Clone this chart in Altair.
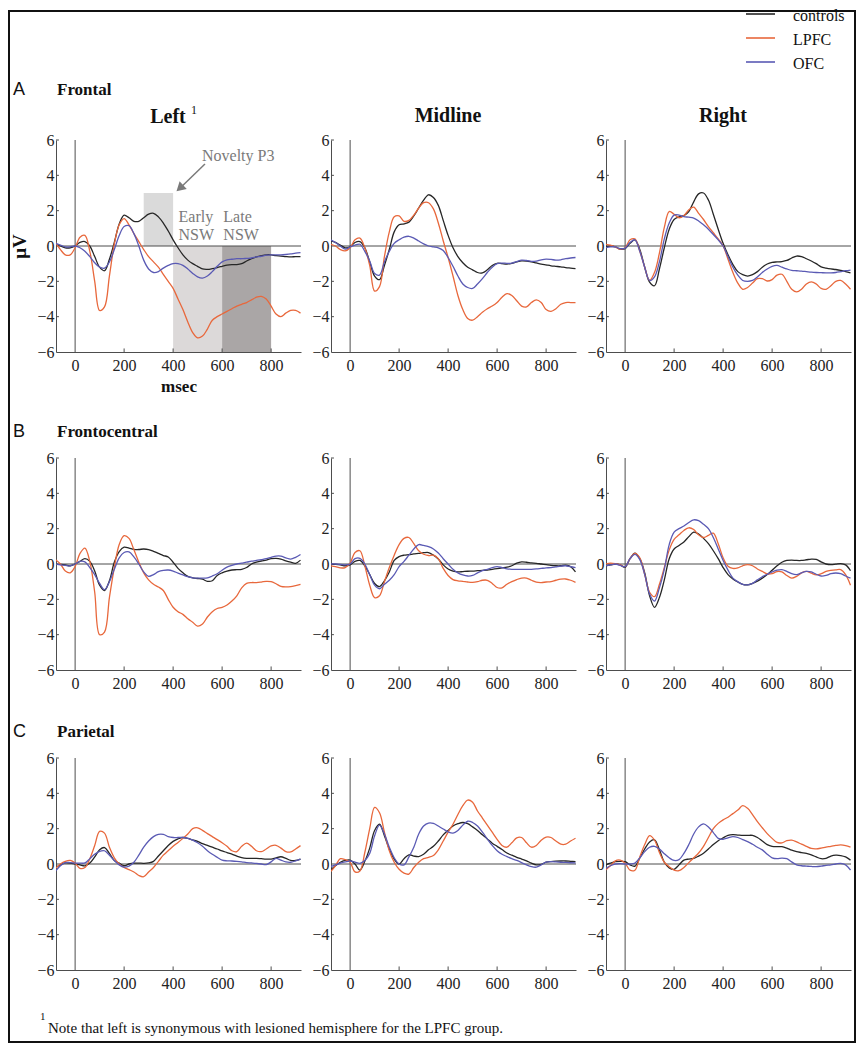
import altair as alt
import pandas as pd

# ---------------- data ----------------
t_ms = list(range(-80, 921, 20))  # 51 samples

groups = ["controls", "LPFC", "OFC"]
group_colors = ["#262626", "#e8683c", "#5a5ab4"]

row_letters = ["A", "B", "C"]
region_rows = ["Frontal", "Frontocentral", "Parietal"]
hemi_cols = ["Left", "Midline", "Right"]

x_ticks = [0, 200, 400, 600, 800]
y_ticks = [-6, -4, -2, 0, 2, 4, 6]

# Frontal
frontal_left_controls = [0.1, 0.0, -0.1, -0.1, 0.0, 0.2, 0.25, 0.0, -0.6, -1.2, -1.4, -0.75, 0.2, 1.25, 1.75, 1.6, 1.4, 1.4, 1.6, 1.8, 1.85, 1.65, 1.3, 0.85, 0.35, -0.1, -0.5, -0.8, -1.0, -1.15, -1.3, -1.32, -1.28, -1.22, -1.15, -1.08, -1.05, -1.05, -1.0, -0.85, -0.72, -0.62, -0.55, -0.5, -0.5, -0.55, -0.57, -0.6, -0.62, -0.6, -0.6]
frontal_left_lpfc = [0.2, -0.2, -0.5, -0.5, -0.1, 0.5, 0.6, -0.3, -2.0, -3.65, -3.45, -1.7, 0.1, 1.2, 1.55, 1.2, 0.7, 0.25, -0.2, -0.6, -0.9, -1.2, -1.6, -2.0, -2.4, -3.0, -3.6, -4.3, -4.9, -5.2, -5.1, -4.7, -4.2, -4.0, -3.85, -3.7, -3.55, -3.4, -3.3, -3.2, -3.05, -2.9, -2.85, -3.0, -3.4, -3.85, -4.0, -3.8, -3.65, -3.65, -3.8]
frontal_left_ofc = [0.15, 0.05, -0.05, -0.05, 0.0, -0.1, -0.3, -0.6, -0.95, -1.2, -1.25, -0.9, -0.2, 0.6, 1.1, 1.15, 0.7, 0.0, -0.8, -1.3, -1.5, -1.45, -1.25, -1.1, -1.0, -1.0, -1.1, -1.3, -1.55, -1.75, -1.82, -1.7, -1.45, -1.15, -0.9, -0.78, -0.75, -0.72, -0.72, -0.7, -0.68, -0.62, -0.58, -0.52, -0.5, -0.5, -0.5, -0.48, -0.45, -0.4, -0.38]
frontal_mid_controls = [0.3, 0.2, 0.05, -0.1, -0.05, 0.2, 0.25, -0.1, -0.9, -1.7, -1.9, -1.1, -0.2, 0.8, 1.2, 1.25, 1.35, 1.7, 2.15, 2.6, 2.9, 2.75, 2.3, 1.45, 0.6, -0.1, -0.6, -0.95, -1.2, -1.35, -1.5, -1.52, -1.35, -1.1, -0.98, -1.0, -1.02, -0.98, -0.9, -0.84, -0.85, -0.9, -0.96, -1.02, -1.07, -1.12, -1.15, -1.18, -1.22, -1.25, -1.28]
frontal_mid_lpfc = [0.1, 0.0, -0.2, -0.28, -0.1, 0.35, 0.45, -0.1, -1.1, -2.55, -2.3, -0.6, 0.8, 1.65, 1.7, 1.4, 1.45, 1.75, 2.15, 2.45, 2.45, 2.1, 1.3, 0.3, -0.65, -1.7, -2.8, -3.6, -4.1, -4.2, -4.0, -3.75, -3.55, -3.4, -3.2, -2.9, -2.7, -2.8, -3.1, -3.4, -3.45, -3.2, -3.05, -3.2, -3.6, -3.7, -3.55, -3.3, -3.2, -3.2, -3.2]
frontal_mid_ofc = [0.35, 0.2, 0.0, -0.18, -0.05, 0.05, 0.1, -0.3, -0.85, -1.55, -1.65, -0.9, -0.3, 0.15, 0.35, 0.5, 0.55, 0.45, 0.28, 0.12, 0.0, -0.05, -0.1, -0.25, -0.65, -1.15, -1.7, -2.15, -2.35, -2.4, -2.15, -1.85, -1.5, -1.2, -1.0, -0.97, -0.98, -0.97, -0.88, -0.8, -0.82, -0.87, -0.85, -0.78, -0.74, -0.76, -0.8, -0.78, -0.72, -0.68, -0.65]
frontal_right_controls = [-0.05, 0.0, -0.05, -0.18, -0.15, 0.15, 0.35, -0.2, -1.2, -2.05, -2.25, -1.3, -0.1, 0.95, 1.5, 1.65, 1.72, 1.95, 2.5, 2.95, 3.0, 2.6, 1.8, 0.95, 0.15, -0.5, -1.05, -1.45, -1.62, -1.7, -1.62, -1.45, -1.2, -1.02, -0.93, -0.9, -0.88, -0.82, -0.68, -0.57, -0.6, -0.72, -0.85, -1.0, -1.18, -1.25, -1.3, -1.33, -1.38, -1.45, -1.52]
frontal_right_lpfc = [0.1, 0.05, -0.05, -0.18, -0.1, 0.35, 0.4, -0.3, -1.2, -1.95, -1.5, -0.4, 1.05, 1.95, 1.8, 1.6, 1.72, 2.05, 2.2, 1.85, 1.5, 1.1, 0.75, 0.4, 0.0, -0.75, -1.5, -2.1, -2.45, -2.35, -2.1, -1.85, -1.85, -1.98, -1.9, -1.65, -1.6, -2.0, -2.45, -2.6, -2.45, -2.15, -2.03, -2.15, -2.4, -2.45, -2.25, -2.0, -1.95, -2.15, -2.45]
frontal_right_ofc = [-0.1, -0.05, -0.05, -0.15, -0.12, 0.2, 0.35, -0.3, -1.2, -1.95, -1.75, -0.9, 0.4, 1.3, 1.75, 1.75, 1.66, 1.63, 1.58, 1.42, 1.2, 0.95, 0.65, 0.35, 0.0, -0.6, -1.2, -1.65, -1.95, -2.0, -1.95, -1.75, -1.5, -1.3, -1.15, -1.1, -1.2, -1.3, -1.38, -1.4, -1.42, -1.45, -1.48, -1.5, -1.51, -1.52, -1.52, -1.5, -1.45, -1.4, -1.36]

# Frontocentral
frontocentral_left_controls = [0.0, -0.02, -0.05, -0.1, 0.0, 0.15, 0.3, 0.15, -0.4, -1.2, -1.5, -0.95, 0.1, 0.7, 0.95, 0.9, 0.83, 0.82, 0.85, 0.82, 0.72, 0.6, 0.48, 0.4, 0.1, -0.25, -0.5, -0.7, -0.78, -0.82, -0.86, -0.98, -0.95, -0.65, -0.5, -0.4, -0.34, -0.32, -0.3, -0.2, 0.0, 0.1, 0.17, 0.22, 0.3, 0.32, 0.28, 0.18, 0.1, 0.04, 0.22]
frontocentral_left_lpfc = [0.25, 0.0, -0.4, -0.5, -0.15, 0.6, 0.9, 0.15, -1.6, -4.0, -3.85, -1.9, -0.2, 1.1, 1.6, 1.45, 0.8, 0.1, -0.5, -0.9, -1.15, -1.3, -1.5, -2.0, -2.45, -2.7, -2.85, -3.1, -3.3, -3.52, -3.4, -3.0, -2.7, -2.52, -2.45, -2.32, -2.1, -1.8, -1.35, -1.1, -1.05, -1.05, -1.02, -0.98, -1.0, -1.12, -1.27, -1.3, -1.28, -1.22, -1.15]
frontocentral_left_ofc = [0.0, -0.05, -0.08, -0.1, 0.0, 0.15, 0.12, -0.2, -0.6, -1.1, -1.45, -1.0, -0.3, 0.35, 0.65, 0.68, 0.4, 0.0, -0.45, -0.7, -0.6, -0.43, -0.36, -0.34, -0.4, -0.52, -0.62, -0.72, -0.78, -0.8, -0.8, -0.78, -0.68, -0.55, -0.35, -0.18, -0.08, 0.0, 0.05, 0.1, 0.16, 0.2, 0.25, 0.3, 0.38, 0.45, 0.45, 0.35, 0.28, 0.38, 0.54]
frontocentral_mid_controls = [0.0, -0.02, -0.05, -0.1, -0.05, 0.15, 0.2, -0.1, -0.6, -1.1, -1.28, -0.95, -0.45, 0.2, 0.42, 0.5, 0.53, 0.57, 0.6, 0.64, 0.65, 0.5, 0.28, -0.05, -0.28, -0.4, -0.45, -0.43, -0.41, -0.4, -0.38, -0.36, -0.34, -0.3, -0.26, -0.22, -0.18, -0.1, 0.05, 0.12, 0.1, 0.06, 0.04, 0.0, -0.04, -0.08, -0.1, -0.1, -0.07, -0.15, -0.45]
frontocentral_mid_lpfc = [-0.1, -0.15, -0.22, -0.2, 0.05, 0.65, 0.75, -0.1, -1.2, -1.9, -1.8, -1.0, -0.2, 0.5, 1.1, 1.45, 1.5, 1.15, 0.75, 0.55, 0.48, 0.5, 0.3, -0.25, -0.65, -0.88, -0.95, -0.98, -1.02, -1.04, -1.0, -0.92, -0.92, -1.1, -1.33, -1.35, -1.15, -1.0, -0.88, -0.8, -0.8, -0.92, -1.03, -1.05, -1.02, -1.0, -0.92, -0.86, -0.85, -0.92, -1.04]
frontocentral_mid_ofc = [0.0, 0.0, -0.02, -0.05, 0.0, 0.3, 0.32, 0.0, -0.6, -1.2, -1.4, -1.15, -0.92, -0.6, -0.15, 0.15, 0.5, 0.85, 1.1, 1.05, 0.98, 0.85, 0.62, 0.3, 0.0, -0.3, -0.5, -0.62, -0.68, -0.65, -0.5, -0.38, -0.3, -0.2, -0.15, -0.2, -0.27, -0.3, -0.3, -0.3, -0.3, -0.3, -0.28, -0.25, -0.22, -0.2, -0.16, -0.12, -0.1, -0.15, -0.2]
frontocentral_right_controls = [-0.1, -0.05, 0.0, -0.05, -0.19, 0.3, 0.62, 0.3, -0.5, -1.8, -2.45, -1.9, -0.9, 0.3, 0.85, 1.05, 1.25, 1.55, 1.8, 1.7, 1.45, 1.15, 0.75, 0.3, -0.2, -0.6, -0.85, -1.02, -1.15, -1.18, -1.1, -0.97, -0.8, -0.6, -0.35, -0.1, 0.1, 0.2, 0.22, 0.2, 0.2, 0.24, 0.28, 0.26, 0.12, 0.0, -0.04, -0.01, 0.02, -0.05, -0.38]
frontocentral_right_lpfc = [0.0, 0.05, 0.02, -0.05, -0.15, 0.3, 0.6, 0.35, -0.6, -1.6, -1.85, -1.15, -0.2, 0.8, 1.4, 1.65, 1.9, 2.05, 1.95, 1.65, 1.5, 1.62, 1.75, 1.15, 0.35, -0.13, -0.25, -0.22, -0.1, -0.04, -0.1, -0.28, -0.42, -0.56, -0.55, -0.43, -0.45, -0.65, -0.8, -0.7, -0.5, -0.42, -0.52, -0.61, -0.55, -0.42, -0.36, -0.33, -0.32, -0.6, -1.2]
frontocentral_right_ofc = [-0.1, -0.05, 0.0, -0.08, -0.15, 0.3, 0.55, 0.25, -0.6, -1.7, -2.1, -1.35, -0.3, 1.1, 1.8, 2.0, 2.15, 2.35, 2.5, 2.45, 2.25, 2.0, 1.5, 0.85, 0.2, -0.35, -0.8, -1.0, -1.15, -1.18, -1.1, -0.9, -0.72, -0.58, -0.45, -0.35, -0.32, -0.42, -0.55, -0.6, -0.5, -0.42, -0.45, -0.58, -0.68, -0.65, -0.55, -0.51, -0.55, -0.68, -0.8]

# Parietal
parietal_left_controls = [-0.2, -0.05, 0.06, 0.05, 0.0, -0.05, -0.1, 0.05, 0.4, 0.8, 0.93, 0.6, 0.2, 0.05, -0.1, 0.0, 0.05, 0.05, 0.04, 0.06, 0.15, 0.45, 0.75, 1.05, 1.28, 1.42, 1.5, 1.45, 1.36, 1.28, 1.15, 1.05, 0.95, 0.85, 0.74, 0.65, 0.56, 0.45, 0.36, 0.32, 0.32, 0.32, 0.3, 0.28, 0.28, 0.35, 0.41, 0.32, 0.2, 0.2, 0.28]
parietal_left_lpfc = [-0.25, 0.0, 0.15, 0.2, 0.05, -0.25, -0.2, 0.3, 1.05, 1.85, 1.75, 0.95, 0.35, 0.0, -0.2, -0.32, -0.45, -0.65, -0.72, -0.45, -0.2, 0.15, 0.5, 0.75, 1.0, 1.22, 1.45, 1.7, 2.0, 2.05, 1.9, 1.72, 1.55, 1.38, 1.2, 1.0, 0.75, 0.7, 1.0, 1.18, 1.0, 0.75, 0.7, 0.85, 1.02, 1.06, 0.9, 0.7, 0.68, 0.85, 1.04]
parietal_left_ofc = [-0.4, -0.1, 0.08, 0.08, 0.05, 0.05, 0.06, 0.3, 0.55, 0.72, 0.75, 0.5, 0.2, -0.05, -0.18, -0.12, 0.1, 0.5, 0.95, 1.3, 1.55, 1.68, 1.68, 1.55, 1.5, 1.5, 1.5, 1.45, 1.35, 1.2, 1.0, 0.75, 0.55, 0.38, 0.22, 0.18, 0.17, 0.15, 0.12, 0.08, 0.06, 0.03, 0.0, -0.03, 0.12, 0.32, 0.22, 0.12, 0.1, 0.18, 0.28]
parietal_mid_controls = [-0.35, -0.1, 0.1, 0.2, 0.22, 0.0, -0.35, 0.15, 0.9, 1.9, 2.25, 1.6, 0.85, 0.28, 0.0, 0.3, 0.52, 0.45, 0.42, 0.55, 0.8, 1.0, 1.3, 1.65, 1.9, 2.15, 2.28, 2.35, 2.28, 2.1, 1.9, 1.65, 1.42, 1.18, 1.0, 0.82, 0.62, 0.5, 0.38, 0.28, 0.18, 0.05, -0.05, -0.02, 0.1, 0.14, 0.16, 0.17, 0.17, 0.15, 0.13]
parietal_mid_lpfc = [-0.45, -0.1, 0.3, 0.25, 0.1, -0.45, -0.4, 0.65, 2.0, 3.2, 2.9, 1.8, 0.75, 0.1, -0.3, -0.52, -0.57, -0.2, 0.1, 0.3, 0.38, 0.48, 0.8, 1.3, 1.8, 2.25, 2.8, 3.3, 3.62, 3.5, 3.0, 2.6, 2.2, 1.8, 1.4, 1.05, 0.95, 1.2, 1.48, 1.5, 1.2, 0.95, 1.05, 1.35, 1.52, 1.5, 1.3, 1.12, 1.12, 1.3, 1.46]
parietal_mid_ofc = [-0.15, -0.05, 0.05, 0.12, 0.17, 0.1, 0.04, 0.2, 0.6, 1.6, 2.2, 1.7, 0.95, 0.35, 0.0, -0.05, 0.4, 0.95, 1.7, 2.15, 2.32, 2.3, 2.15, 1.98, 1.82, 1.75, 1.9, 2.2, 2.42, 2.35, 2.15, 1.8, 1.42, 1.05, 0.75, 0.55, 0.42, 0.3, 0.2, 0.08, -0.05, -0.15, -0.18, -0.05, 0.1, 0.13, 0.12, 0.1, 0.09, 0.07, 0.06]
parietal_right_controls = [-0.05, 0.05, 0.13, 0.15, 0.13, -0.05, -0.12, 0.35, 0.85, 1.25, 1.37, 0.8, 0.1, -0.22, -0.3, -0.05, 0.22, 0.28, 0.32, 0.45, 0.61, 0.85, 1.1, 1.32, 1.48, 1.62, 1.66, 1.64, 1.62, 1.62, 1.62, 1.5, 1.3, 1.1, 1.0, 0.98, 0.98, 0.9, 0.78, 0.7, 0.65, 0.6, 0.52, 0.4, 0.3, 0.32, 0.45, 0.5, 0.48, 0.4, 0.22]
parietal_right_lpfc = [-0.35, -0.1, 0.18, 0.22, 0.05, -0.35, -0.35, 0.4, 1.1, 1.6, 1.35, 0.65, 0.1, -0.15, -0.35, -0.38, -0.2, 0.08, 0.35, 0.62, 1.0, 1.5, 2.0, 2.3, 2.5, 2.65, 2.85, 3.05, 3.3, 3.15, 2.8, 2.4, 2.05, 1.72, 1.45, 1.22, 1.2, 1.32, 1.35, 1.25, 1.12, 1.0, 0.88, 0.86, 0.9, 0.96, 1.0, 1.05, 1.08, 1.04, 0.95]
parietal_right_ofc = [-0.25, -0.1, 0.0, 0.02, 0.0, 0.0, 0.05, 0.35, 0.7, 0.95, 1.0, 0.85, 0.58, 0.35, 0.2, 0.25, 0.6, 1.1, 1.7, 2.1, 2.27, 2.1, 1.78, 1.45, 1.4, 1.48, 1.55, 1.5, 1.38, 1.27, 1.12, 0.95, 0.8, 0.55, 0.35, 0.3, 0.33, 0.3, 0.12, -0.05, -0.1, -0.12, -0.14, -0.15, -0.12, -0.08, -0.05, 0.0, 0.04, -0.05, -0.34]

series = {
    ("Frontal", "Left"): (frontal_left_controls, frontal_left_lpfc, frontal_left_ofc),
    ("Frontal", "Midline"): (frontal_mid_controls, frontal_mid_lpfc, frontal_mid_ofc),
    ("Frontal", "Right"): (frontal_right_controls, frontal_right_lpfc, frontal_right_ofc),
    ("Frontocentral", "Left"): (frontocentral_left_controls, frontocentral_left_lpfc, frontocentral_left_ofc),
    ("Frontocentral", "Midline"): (frontocentral_mid_controls, frontocentral_mid_lpfc, frontocentral_mid_ofc),
    ("Frontocentral", "Right"): (frontocentral_right_controls, frontocentral_right_lpfc, frontocentral_right_ofc),
    ("Parietal", "Left"): (parietal_left_controls, parietal_left_lpfc, parietal_left_ofc),
    ("Parietal", "Midline"): (parietal_mid_controls, parietal_mid_lpfc, parietal_mid_ofc),
    ("Parietal", "Right"): (parietal_right_controls, parietal_right_lpfc, parietal_right_ofc),
}

# analysis windows (Frontal / Left panel)
window_names = ["Novelty P3", "Early NSW", "Late NSW"]
window_start = [280, 400, 600]
window_end = [400, 600, 800]
window_low = [0, -6, -6]
window_high = [3, 0, 0]
window_fill = ["#dadada", "#dcd9d9", "#aaa6a6"]

# ---------------- styling ----------------
W, H = 245, 212
X_DOMAIN = [-78, 922]
SERIF = "Liberation Serif"
SANS = "Liberation Sans"
AXIS_GRAY = "#4d4d4d"

x_scale = alt.Scale(domain=X_DOMAIN, nice=False, zero=False)
y_scale = alt.Scale(domain=[-6, 6], nice=False, zero=False)
color_scale = alt.Scale(domain=groups, range=group_colors)
one = pd.DataFrame({"k": [0]})


def label(text, x, y, size=16, weight="normal", font=SERIF, color="#111", align="left"):
    return alt.Chart(one).mark_text(
        text=text, font=font, fontSize=size, fontWeight=weight, color=color,
        align=align, baseline="alphabetic"
    ).encode(x=alt.value(x), y=alt.value(y))


def panel(ri, ci):
    region = region_rows[ri]
    hemi = hemi_cols[ci]
    ctrl, lpfc, ofc = series[(region, hemi)]
    n = len(t_ms)
    df = pd.DataFrame({
        "t": t_ms * 3,
        "v": list(ctrl) + list(lpfc) + list(ofc),
        "group": ["controls"] * n + ["LPFC"] * n + ["OFC"] * n,
    })
    first = ri == 0 and ci == 0
    xa = alt.Axis(values=x_ticks, title="msec" if first else None, labelPadding=5,
                  titleFontSize=17, titlePadding=5)
    ya = alt.Axis(values=y_ticks, title="μV" if first else None, labelPadding=2,
                  titleFontSize=19, titlePadding=7)

    def X(f):
        return alt.X(f, type="quantitative", scale=x_scale, axis=xa)

    def Y(f):
        return alt.Y(f, type="quantitative", scale=y_scale, axis=ya)

    layers = []
    if first:
        # outer figure frame
        layers.append(alt.Chart(one).mark_rect(fill="white", fillOpacity=0, stroke="#111", strokeWidth=2).encode(
            x=alt.value(-47), x2=alt.value(799), y=alt.value(-129), y2=alt.value(902)))
        wdf = pd.DataFrame({"name": window_names, "x0": window_start, "x1": window_end,
                            "y0": window_low, "y1": window_high, "fill": window_fill})
        layers.append(alt.Chart(wdf).mark_rect().encode(
            x=X("x0"), x2="x1", y=Y("y0"), y2="y1",
            color=alt.Color("fill:N", scale=None)))

    zdf = pd.DataFrame({"x0": [X_DOMAIN[0]], "x1": [X_DOMAIN[1]], "y0": [0]})
    layers.append(alt.Chart(zdf).mark_rule(color=AXIS_GRAY, strokeWidth=1).encode(
        x=X("x0"), x2="x1", y=Y("y0")))
    vdf = pd.DataFrame({"x0": [0], "y0": [-6], "y1": [6]})
    layers.append(alt.Chart(vdf).mark_rule(color=AXIS_GRAY, strokeWidth=1).encode(
        x=X("x0"), y=Y("y0"), y2="y1"))
    # inward ticks
    xt = pd.DataFrame({"x0": x_ticks[1:], "y0": [-6] * 4, "y1": [-5.8] * 4})
    layers.append(alt.Chart(xt).mark_rule(color=AXIS_GRAY).encode(x=X("x0"), y=Y("y0"), y2="y1"))
    yt_vals = [-4, -2, 2, 4, 6]
    yt = pd.DataFrame({"x0": [X_DOMAIN[0]] * 5, "x1": [X_DOMAIN[0] + 12] * 5, "y0": yt_vals})
    layers.append(alt.Chart(yt).mark_rule(color=AXIS_GRAY).encode(x=X("x0"), x2="x1", y=Y("y0")))

    layers.append(alt.Chart(df).mark_line(strokeWidth=1.3, interpolate="catmull-rom", clip=True).encode(
        x=X("t"), y=Y("v"),
        color=alt.Color("group:N", scale=color_scale, legend=None),
        detail="group:N"))

    if first:
        ann_gray = "#7a7a7a"
        adf = pd.DataFrame({"x0": [530], "y0": [4.64], "x1": [432], "y1": [3.33]})
        layers.append(alt.Chart(adf).mark_rule(color=ann_gray, strokeWidth=1.5).encode(
            x=X("x0"), y=Y("y0"), x2="x1", y2="y1"))
        layers.append(alt.Chart(adf).mark_point(shape="triangle", filled=True, size=110, angle=227,
                                                 color=ann_gray, opacity=1).encode(x=X("x1"), y=Y("y1")))
        tdf = pd.DataFrame({"x": [518, 422, 422, 605, 605], "y": [4.82, 1.38, 0.36, 1.38, 0.36],
                            "txt": ["Novelty P3", "Early", "NSW", "Late", "NSW"]})
        layers.append(alt.Chart(tdf).mark_text(font=SERIF, fontSize=16, color=ann_gray, align="left",
                                               baseline="alphabetic").encode(
            x=X("x"), y=Y("y"), text="txt:N"))

    # row labels
    if ci == 0:
        ly = -45 if ri == 0 else -21
        layers.append(label(row_letters[ri], -43, ly, size=18, font=SANS))
        layers.append(label(region_rows[ri], 1, ly, size=17, weight="bold"))
    # column titles
    if ri == 0:
        if ci == 0:
            layers.append(label("Left", 112, -17, size=20, weight="bold", align="center"))
            layers.append(label("1", 135, -26, size=12))
        else:
            layers.append(label(hemi, 117, -18, size=20, weight="bold", align="center"))
    # legend
    if ri == 0 and ci == 2:
        for g, yy in zip(groups, [-126, -102, -78]):
            gdf = pd.DataFrame({"group": [g]})
            layers.append(alt.Chart(gdf).mark_rule(strokeWidth=1.6).encode(
                x=alt.value(140), x2=alt.value(169), y=alt.value(yy),
                color=alt.Color("group:N", scale=color_scale, legend=None)))
            layers.append(label(g, 187, yy + 7, size=16))
    # footnote
    if ri == 2 and ci == 0:
        layers.append(label("1", -16, 262, size=11))
        layers.append(label("Note that left is synonymous with lesioned hemisphere for the LPFC group.",
                            -8, 275, size=15))

    return alt.layer(*layers).properties(width=W, height=H)


rows = []
for ri in range(3):
    rows.append(alt.hconcat(*[panel(ri, ci) for ci in range(3)], spacing=30, bounds="flush"))

# with flush bounds, nested concat rows count as zero-height, so spacing = top-to-top distance
rows_bc = alt.vconcat(rows[1], rows[2], spacing=300, bounds="flush")
chart = alt.vconcat(rows[0], rows_bc, spacing=318, bounds="flush").properties(
    padding=0
).configure_view(stroke=None).configure_axis(
    domainColor=AXIS_GRAY, domainWidth=1, grid=False, ticks=False,
    labelFont=SERIF, labelFontSize=16, labelColor="#222",
    titleFont=SERIF, titleFontWeight="bold", titleColor="#111"
)

chart.save("out.html", embed_options={"renderer": "svg", "actions": False})
